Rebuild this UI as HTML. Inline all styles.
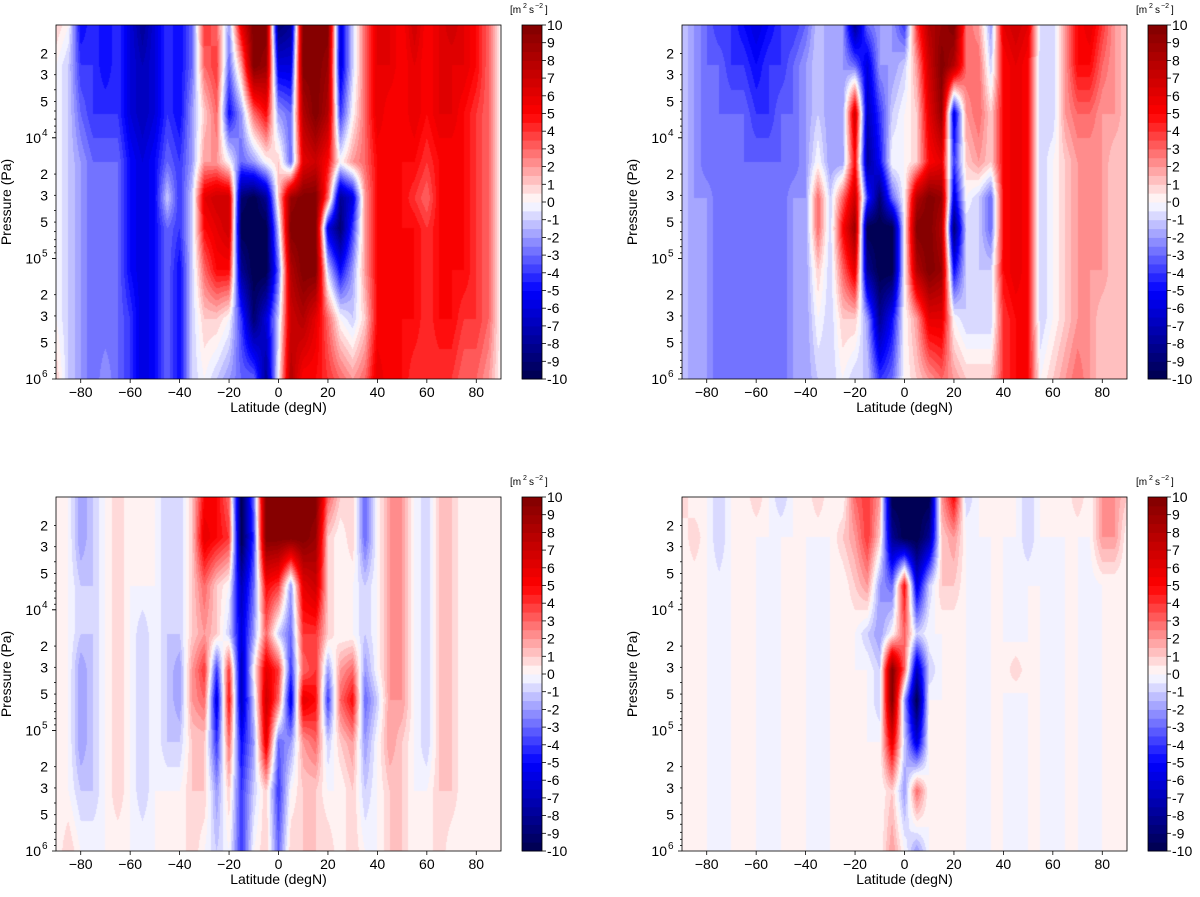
<!DOCTYPE html>
<html><head><meta charset="utf-8">
<style>
body{margin:0;background:#fff;width:1200px;height:897px;overflow:hidden;position:relative;font-family:"Liberation Sans","DejaVu Sans",sans-serif;}
canvas{position:absolute;}
svg{position:absolute;left:0;top:0;}
</style></head>
<body>
<div id="root"></div>
<svg id="ov" width="1200" height="897"></svg>
<script>
// ---- data ----
const latitudes = [-90,-85,-80,-75,-70,-65,-60,-55,-50,-45,-40,-35,-30,-25,-20,-15,-10,-5,0,5,10,15,20,25,30,35,40,45,50,55,60,65,70,75,80,85,90];
const logPressureLevels = [3.07,3.4,3.8,4.2,4.5,4.75,5.1,5.5,6.0];
const xTickLabels = [-80,-60,-40,-20,0,20,40,60,80];
const colorbarTicks = [10,9,8,7,6,5,4,3,2,1,0,-1,-2,-3,-4,-5,-6,-7,-8,-9,-10];
const panelA = [
[1,0,-5,-4,-5,-4,-6,-8,-6,-4,-5,-3,4,3,-2,6,10,10,-9,-8,10,10,10,-6,-1,3,6,6,5,7,5,6,7,6,5,3,0],
[0,-1,-4,-4,-5,-4,-6,-7,-6,-4,-5,-3,3,4,-3,2,10,9,-6,-6,10,10,9,-6,-1,3,6,6,5,6,5,6,6,6,5,3,0],
[0,-1,-3,-4,-4,-4,-6,-7,-6,-4,-5,-2,1,3,-5,-2,3,5,-2,-3,8,10,8,-4,0,3,6,5,5,6,5,6,6,5,4,3,0],
[0,-1,-2,-3,-3,-3,-5,-6,-5,-3,-4,-2,2,2,0,-3,-2,0,1,-3,6,7,5,0,2,3,5,5,5,5,4,5,5,5,4,3,0],
[0,-1,-2,-3,-3,-3,-5,-6,-5,-1,-4,-1,6,7,7,-9,-10,-8,1,9,10,10,3,-8,-6,2,5,5,5,4,3,5,5,5,4,3,0],
[0,-1,-2,-3,-3,-3,-5,-6,-5,-3,-4,-1,5,6,7,-10,-10,-10,-1,10,10,10,-6,-9,-4,2,5,5,5,5,4,5,5,5,4,3,0],
[0,-1,-2,-3,-3,-3,-5,-6,-5,-3,-5,-1,3,5,5,-8,-10,-10,-3,8,10,10,-1,-5,-2,2,5,5,5,5,4,5,5,5,4,3,0],
[0,-1,-2,-3,-3,-3,-4,-6,-5,-3,-5,-1,1,1,0,-4,-9,-6,-1,7,8,6,3,0,-1,1,5,5,5,5,4,5,5,4,4,3,0],
[1,-1,-2,-3,-2,-3,-4,-6,-5,-3,-5,-1,0,-1,-2,-3,-3,-8,0,8,5,5,4,3,2,3,6,5,5,4,4,4,4,3,3,2,0]];
const panelB = [
[-1,-2,-3,-4,-4,-5,-6,-5,-4,-4,-3,-1,-2,-2,-8,-3,-2,-2,-4,4,8,9,10,3,2,-2,6,7,6,-1,-1,2,5,6,4,2,1],
[-1,-2,-3,-3,-4,-4,-5,-4,-4,-3,-2,-1,-2,-2,-3,-6,-2,-2,-1,2,7,10,8,3,3,-1,5,6,5,-1,-1,2,5,5,3,2,1],
[-1,-2,-3,-3,-3,-3,-4,-4,-3,-3,-2,-1,-2,-2,7,-7,-4,-1,0,1,6,9,-6,2,3,1,5,6,5,-1,-1,2,3,3,2,2,1],
[-1,-2,-3,-3,-3,-3,-3,-3,-3,-3,-2,0,-2,-2,5,-8,-5,0,0,1,5,6,-4,1,2,1,5,6,5,-1,0,1,2,2,2,1,1],
[-1,-2,-2,-3,-3,-3,-3,-3,-3,-2,-2,3,-1,3,7,-4,-9,-3,0,8,10,9,-6,0,-1,-3,5,6,5,-1,0,1,2,2,2,1,1],
[-1,-2,-2,-3,-3,-3,-3,-3,-3,-2,-2,3,-1,5,9,-10,-10,-10,0,10,10,8,-9,-1,-1,-3,5,6,5,-1,0,1,2,2,2,1,1],
[-1,-2,-2,-3,-3,-3,-3,-3,-3,-2,-2,1,-1,3,6,-8,-10,-10,0,8,10,9,-5,-1,-1,-1,5,6,5,-1,0,1,2,2,2,1,1],
[-1,-2,-2,-3,-3,-3,-3,-3,-3,-2,-2,0,-1,1,1,-2,-8,-5,0,2,6,6,0,-1,-1,-1,4,5,5,-1,0,1,2,2,1,1,1],
[-1,-2,-2,-3,-3,-3,-3,-3,-3,-2,-2,-1,-1,0,-1,-1,-4,-3,0,1,2,3,2,1,1,1,4,5,5,0,1,2,3,2,1,1,1]];
const panelC = [
[0,0,-2,-1,0,1,0,0,0,-1,-1,1,5,5,3,-10,-3,10,10,10,10,10,3,1,1,-3,0,2,2,0,-1,1,1,0,0,0,0],
[0,0,-2,-1,0,1,0,0,0,-1,-1,1,6,5,4,-10,-4,10,10,10,10,9,1,0,1,-3,0,2,2,0,-1,1,1,0,0,0,0],
[0,0,-1,-1,0,1,0,0,0,-1,-1,1,3,1,0,-7,-3,5,4,-2,6,7,1,0,0,-1,0,2,2,0,-1,1,1,0,0,0,0],
[0,0,-1,-1,0,1,0,-1,0,-1,-1,1,2,1,-1,-6,-2,3,-1,-3,4,4,1,0,0,-1,0,2,2,0,-1,1,1,0,0,0,0],
[0,0,-2,-1,0,1,0,-1,0,-1,-2,2,4,-4,4,-7,0,6,4,-4,3,4,-2,2,3,-2,0,2,2,0,-1,1,1,0,0,0,0],
[0,0,-2,-1,0,1,0,-1,0,-1,-2,2,3,-6,5,-7,-1,7,3,-6,6,5,-4,3,5,-3,-1,2,2,0,-1,1,1,0,0,0,0],
[0,0,-2,-1,0,1,0,-1,0,-1,-1,1,1,-4,3,-5,-2,6,-3,-2,2,3,-1,1,2,-2,0,2,1,0,-1,1,1,0,0,0,0],
[0,0,-1,-1,0,1,0,-1,0,0,0,1,1,-2,1,-4,-1,1,-4,0,1,1,0,0,1,-1,0,1,1,0,0,1,1,0,0,0,0],
[0,1,0,0,0,0,0,0,0,0,0,1,0,-1,0,-4,0,1,-3,1,1,1,1,0,1,0,0,1,1,0,0,1,0,0,0,0,0]];
const panelD = [
[1,0,0,-1,0,0,1,0,-1,0,0,1,0,0,3,4,2,-10,-10,-10,-10,2,5,-1,0,0,0,0,-1,0,0,0,1,0,2,2,1],
[0,1,0,-1,0,0,0,0,0,0,0,0,0,1,2,4,1,-8,-10,-10,-8,1,2,0,0,0,0,0,-1,0,0,0,0,0,2,2,0],
[0,0,0,-0.3,0,0,0,-0.3,0,0,0,-0.3,0,0,1,2,-2,-3,5,-6,-1,1,1,0,-0.3,0,0,-0.3,0,0,-0.3,0,0,-0.3,0,0,0],
[0,0,0,-0.3,0,0,0,-0.3,0,0,0,-0.3,0,0,0,-1,-2,0,3,-1,0,0,0,0,-0.3,0,0,-0.3,0,0,-0.3,0,0,-0.3,0,0,0],
[0,0,0,-0.3,0,0,0,-0.3,0,0,0,-0.3,0,0,0,0,-1,10,3,-7,-1,0,0,0,-0.3,0,0,1,0,0,-0.3,0,0,-0.3,0,0,0],
[0,0,0,-0.3,0,0,0,-0.3,0,0,0,-0.3,0,0,0,0,-1,10,-2,-10,0,0,0,0,-0.3,0,0,-0.3,0,0,-0.3,0,0,-0.3,0,0,0],
[0,0,0,-0.3,0,0,0,-0.3,0,0,0,-0.3,0,0,0,0,0,6,-1,-6,0,0,0,0,-0.3,0,0,-0.3,0,0,-0.3,0,0,-0.3,0,0,0],
[0,0,0,-0.3,0,0,0,-0.3,0,0,0,-0.3,0,0,0,0,0,1,-2,3,0,0,0,0,-0.3,0,0,-0.3,0,0,-0.3,0,0,-0.3,0,0,0],
[0,0,0,-0.3,0,0,0,-0.3,0,0,0,-0.3,0,0,0,0,0,2,0,-2,0,0,0,0,-0.3,0,0,-0.3,0,0,-0.3,0,0,-0.3,0,0,0]];

const panels=[
 {name:'top-left',data:panelA,x0:56,x1:501,y0:25,y1:379,cb0:522,cb1:542},
 {name:'top-right',data:panelB,x0:682,x1:1127,y0:25,y1:379,cb0:1148,cb1:1167},
 {name:'bottom-left',data:panelC,x0:56,x1:501,y0:497,y1:851,cb0:522,cb1:542},
 {name:'bottom-right',data:panelD,x0:682,x1:1127,y0:497,y1:851,cb0:1148,cb1:1167}];
const LOGTOP=3.065, LOGBOT=6.0;
function seismic(v){
  let b=Math.floor((Math.max(-9.999,Math.min(9.999,v))+10)/0.5);
  let t=(b+0.5)/40;
  const st=[[0,0,0,0.3],[0.25,0,0,1],[0.5,1,1,1],[0.75,1,0,0],[1,0.5,0,0]];
  for(let i=0;i<4;i++){if(t<=st[i+1][0]){const a=st[i],c=st[i+1],f=(t-a[0])/(c[0]-a[0]);
    return [0,1,2].map(k=>Math.round(255*(a[k+1]+(c[k+1]-a[k+1])*f)));}}
  return [128,0,0];
}
function interp(data,lat,lp){
  let fi=(lat+90)/5; let i=Math.min(35,Math.max(0,Math.floor(fi))); let fx=Math.min(1,Math.max(0,fi-i));
  let j=0; while(j<logPressureLevels.length-2 && lp>logPressureLevels[j+1]) j++;
  let fy=(lp-logPressureLevels[j])/(logPressureLevels[j+1]-logPressureLevels[j]); fy=Math.min(1,Math.max(0,fy));
  const a=data[j][i]*(1-fx)+data[j][i+1]*fx, b=data[j+1][i]*(1-fx)+data[j+1][i+1]*fx;
  return a*(1-fy)+b*fy;
}
const NS='http://www.w3.org/2000/svg', ov=document.getElementById('ov');
function el(tag,attrs,txt){const e=document.createElementNS(NS,tag);for(const k in attrs)e.setAttribute(k,attrs[k]);if(txt!==undefined)e.textContent=txt;ov.appendChild(e);return e;}
panels.forEach(p=>{
  const W=p.x1-p.x0,H=p.y1-p.y0;
  const c=document.createElement('canvas');c.width=W;c.height=H;c.style.left=p.x0+'px';c.style.top=p.y0+'px';
  
  
  document.body.insertBefore(c,ov);
  const ctx=c.getContext('2d'),img=ctx.createImageData(W,H);
  for(let y=0;y<H;y++){const lp=LOGTOP+(y+0.5)/H*(LOGBOT-LOGTOP);
    for(let x=0;x<W;x++){const lat=-90+(x+0.5)/W*180;const col=seismic(interp(p.data,lat,lp));
      const o=(y*W+x)*4;img.data[o]=col[0];img.data[o+1]=col[1];img.data[o+2]=col[2];img.data[o+3]=255;}}
  ctx.putImageData(img,0,0);
  const xs=lat=>p.x0+(lat+90)/180*W, ys=lp=>p.y0+(lp-LOGTOP)/(LOGBOT-LOGTOP)*H;
  const fr=el('rect',{x:p.x0,y:p.y0,width:W,height:H,fill:'none',stroke:'#000','stroke-width':0.8});
  
  
  xTickLabels.forEach(t=>{const x=xs(t);
    el('line',{x1:x,x2:x,y1:p.y1,y2:p.y1+4,stroke:'#000','stroke-width':0.8});
    const tx=el('text',{x:x,y:p.y1+18,'font-size':14,'text-anchor':'middle'},t<0?'\u2212'+(-t):String(t));
    
    });
  const xl=el('text',{x:(p.x0+p.x1)/2,y:p.y1+33,'font-size':14,'text-anchor':'middle'},'Latitude (degN)');
  
  
  for(let d=3;d<6;d++)for(let m=1;m<=9;m++){const lp=d+Math.log10(m);if(lp<LOGTOP)continue;const y=ys(lp);
    const major=m===1;el('line',{x1:p.x0-(major?4:2),x2:p.x0,y1:y,y2:y,stroke:'#000','stroke-width':0.8});
    if(m===2||m===3||m===5){const t=el('text',{x:p.x0-8,y:y+5,'font-size':14,'text-anchor':'end'},String(m));
      
      }}
  [4,5,6].forEach(d=>{const y=ys(d);el('line',{x1:p.x0-4,x2:p.x0,y1:y,y2:y,stroke:'#000','stroke-width':0.8});
    const t=el('text',{x:p.x0-15,y:y+5,'font-size':14,'text-anchor':'end'},'10');
    
    
    el('text',{x:p.x0-14,y:y-2,'font-size':10},String(d));});
  const yl=el('text',{x:0,y:0,'font-size':14,'text-anchor':'middle',transform:`translate(${p.x0-45},${(p.y0+p.y1)/2}) rotate(-90)`},'Pressure (Pa)');
  
  
  // colorbar
  const cH=p.y1-p.y0,cW=p.cb1-p.cb0;
  for(let b=0;b<40;b++){const v=-10+b*0.5+0.25;const col=seismic(v);
    const y=p.y1-(b+1)/40*cH;
    const r=el('rect',{x:p.cb0,y:y,width:cW,height:cH/40+0.5,fill:`rgb(${col})`});
    
    }
  el('rect',{x:p.cb0,y:p.y0,width:cW,height:cH,fill:'none',stroke:'#000','stroke-width':0.8});
  colorbarTicks.forEach(t=>{const y=p.y1-(t+10)/20*cH;
    el('line',{x1:p.cb1,x2:p.cb1+4,y1:y,y2:y,stroke:'#000','stroke-width':0.8});
    const tx=el('text',{x:p.cb1+5,y:y+5,'font-size':14},String(t));
    
    });
  const u=el('text',{x:p.cb0-12,y:p.y0-12,'font-size':10},'[m');
  
  
  el('text',{x:p.cb0+1,y:p.y0-17,'font-size':7},'2');
  el('text',{x:p.cb0+7,y:p.y0-12,'font-size':10},'s');
  el('text',{x:p.cb0+13,y:p.y0-17,'font-size':7},'\u22122');
  el('text',{x:p.cb0+23,y:p.y0-12,'font-size':10},']');
});
</script>
</body></html>
